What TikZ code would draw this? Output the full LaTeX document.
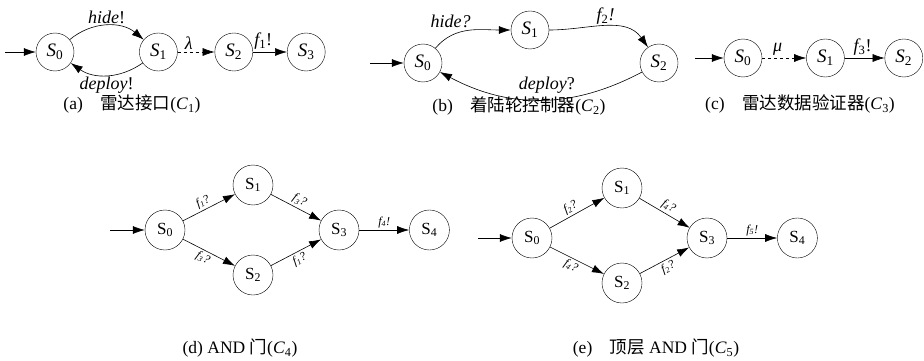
\documentclass[tikz,border=0pt]{standalone}
\usepackage{fontspec}
\setmainfont{Liberation Serif}
\newfontfamily\cjk{Noto Sans CJK SC}
\usetikzlibrary{positioning,arrows.meta}
\newcommand{\sti}[1]{\textit{S}\textsubscript{#1}}
\newcommand{\stu}[1]{S\textsubscript{#1}}

\begin{document}
\begin{tikzpicture}
        [ x = 1pt, y = 1pt
        , state/.style =
          { draw, circle, minimum size=38pt, inner sep=0pt, font=\fontsize{19}{19}\selectfont }
        , gate/.style =
          { state, minimum size=40pt, font=\fontsize{17}{17}\selectfont }
        , trans/.style =
          { -{Latex[length=12pt,width=8pt]}, semithick }
        , silent/.style =
          { dashed }
        , lab/.style =
          { font=\itshape\fontsize{18}{18}\selectfont, inner sep=2pt }
        , tiny/.style =
          { font=\itshape\fontsize{12}{12}\selectfont, inner sep=2pt, sloped }
        , caption/.style =
          { font=\fontsize{17.5}{17.5}\selectfont }
        ]
        \useasboundingbox (0,0) rectangle (924,-361);

        % (a) radar interface
        \node [state] (a0) at (55,-52) {\sti0};
        \node [state] (a1) [right=65pt of a0] {\sti1};
        \node [state] (a2) [right=37pt of a1] {\sti2};
        \node [state] (a3) [right=34pt of a2] {\sti3};
        \coordinate (ain) at (5,-52);
        \draw [trans] (ain) -- (a0);
        \draw [trans] (a0) to [bend left=40] node [lab,above] {hide\upshape!} (a1);
        \draw [trans] (a1) to [bend left=35] node [lab,below] {deploy\upshape!} (a0);
        \draw [trans,silent] (a1) -- node [lab,above,pos=.3] {λ} (a2);
        \draw [trans] (a2) -- node [lab,above,pos=.3] {f\textsubscript{\upshape1}\upshape!} (a3);
        \node [caption] (capa) at (132,-104) {(a)\quad{\cjk 雷达接口}(\textit{C}\textsubscript{1})};

        % (b) landing gear controller
        \node [state] (b0) at (423,-63) {\sti0};
        \node [state] (b1) at (530,-30) {\sti1};
        \node [state] (b2) at (659,-63) {\sti2};
        \coordinate (bin) at (370,-63);
        \draw [trans] (bin) -- (b0);
        \draw [trans] (b0) to [out=50,in=180] node [lab,above left,pos=.55] {hide?} (b1);
        \draw [trans] (b1) to [out=0,in=125] node [lab,above right,pos=.4] {f\textsubscript{\upshape2}!} (b2);
        \draw [trans] (b2) to [bend left=28] node [lab,above=4pt,pos=.47] {deploy\upshape?} (b0);
        \node [caption] (capb) at (519,-106) {(b)\quad{\cjk 着陆轮控制器}(\textit{C}\textsubscript{2})};

        % (c) radar data validator
        \node [state] (c0) at (743,-58) {\sti0};
        \node [state] (c1) [right=44pt of c0] {\sti1};
        \node [state] (c2) [right=40pt of c1] {\sti2};
        \coordinate (cin) at (695,-58);
        \draw [trans] (cin) -- (c0);
        \draw [trans,silent] (c0) -- node [lab,above,pos=.35] {μ} (c1);
        \draw [trans] (c1) -- node [lab,above,pos=.45] {f\textsubscript{\upshape3}\upshape!} (c2);
        \node [caption] (capc) at (800,-104) {(c)\quad{\cjk 雷达数据验证器}(\textit{C}\textsubscript{3})};

        % (d) AND gate
        \node [gate] (d0) at (165,-230) {\stu0};
        \node [gate] (d1) at (253,-185) {\stu1};
        \node [gate] (d2) at (253,-275) {\stu2};
        \node [gate] (d3) at (339,-230) {\stu3};
        \node [gate] (d4) [right=50pt of d3] {\stu4};
        \coordinate (din) at (110,-230);
        \draw [trans] (din) -- (d0);
        \draw [trans] (d0) -- node [tiny,above,pos=.45] {f\textsubscript{1}?} (d1);
        \draw [trans] (d0) -- node [tiny,below,pos=.45] {f\textsubscript{3}?} (d2);
        \draw [trans] (d1) -- node [tiny,above,pos=.5] {f\textsubscript{3}?} (d3);
        \draw [trans] (d2) -- node [tiny,below,pos=.5] {f\textsubscript{1}?} (d3);
        \draw [trans] (d3) -- node [tiny,above] {f\textsubscript{4}!} (d4);
        \node [caption] (capd) at (240,-348) {(d) AND {\cjk 门}(\textit{C}\textsubscript{4})};

        % (e) top-level AND gate
        \node [gate] (e0) at (532,-238) {\stu0};
        \node [gate] (e1) at (622,-188) {\stu1};
        \node [gate] (e2) at (622,-283) {\stu2};
        \node [gate] (e3) at (707,-238) {\stu3};
        \node [gate] (e4) [right=50pt of e3] {\stu4};
        \coordinate (ein) at (478,-238);
        \draw [trans] (ein) -- (e0);
        \draw [trans] (e0) -- node [tiny,above,pos=.45] {f\textsubscript{2}?} (e1);
        \draw [trans] (e0) -- node [tiny,below,pos=.45] {f\textsubscript{4}?} (e2);
        \draw [trans] (e1) -- node [tiny,above,pos=.5] {f\textsubscript{4}?} (e3);
        \draw [trans] (e2) -- node [tiny,below,pos=.5] {f\textsubscript{2}?} (e3);
        \draw [trans] (e3) -- node [tiny,above] {f\textsubscript{5}!} (e4);
        \node [caption] (cape) at (656,-348) {(e)\quad{\cjk 顶层} AND {\cjk 门}(\textit{C}\textsubscript{5})};
\end{tikzpicture}
\end{document}
